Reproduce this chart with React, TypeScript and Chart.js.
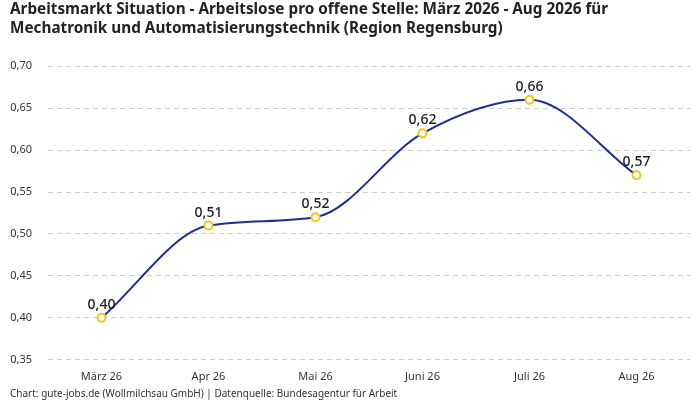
import React, { useEffect, useRef } from "react";
import { Chart, registerables } from "chart.js";

Chart.register(...registerables);

const categories = ["März 26", "Apr 26", "Mai 26", "Juni 26", "Juli 26", "Aug 26"];
const values = [0.4, 0.51, 0.52, 0.62, 0.66, 0.57];
const titleLines = [
  "Arbeitsmarkt Situation - Arbeitslose pro offene Stelle: März 2026 - Aug 2026 für",
  "Mechatronik und Automatisierungstechnik (Region Regensburg)",
];
const footerText = "Chart: gute-jobs.de (Wollmilchsau GmbH) | Datenquelle: Bundesagentur für Arbeit";

const FONT = "'Noto Sans', 'DejaVu Sans', sans-serif";
const fmt = (v: number) => v.toFixed(2).replace(".", ",");

const labelPlugin = {
  id: "valueLabels",
  afterDatasetsDraw(chart: any) {
    const ctx = chart.ctx;
    const meta = chart.getDatasetMeta(0);
    ctx.save();
    ctx.font = `500 14px ${FONT}`;
    ctx.fillStyle = "#1a1a1a";
    ctx.textAlign = "center";
    ctx.textBaseline = "bottom";
    meta.data.forEach((pt: any, i: number) => {
      ctx.fillText(fmt(values[i]), pt.x, pt.y - 6);
    });
    ctx.restore();
  },
};

export default function App() {
  const ref = useRef<HTMLCanvasElement | null>(null);
  useEffect(() => {
    if (!ref.current) return;
    const chart = new Chart(ref.current, {
      type: "line",
      data: {
        labels: categories,
        datasets: [
          {
            data: values,
            borderColor: "#1f2f8f",
            borderWidth: 2,
            cubicInterpolationMode: "monotone",
            pointRadius: 4,
            pointBorderWidth: 2,
            pointBackgroundColor: "#ffffff",
            pointBorderColor: "#f5c518",
            fill: false,
          },
        ],
      },
      options: {
        animation: false,
        responsive: false,
        maintainAspectRatio: false,
        layout: { padding: { left: 10, right: 10, top: 0, bottom: 0 } },
        plugins: {
          legend: { display: false },
          tooltip: { enabled: false },
          title: {
            display: true,
            text: titleLines,
            align: "start",
            color: "#222222",
            font: { family: FONT, size: 15.3, weight: "bold", lineHeight: 1.25 },
            padding: { top: 0, bottom: 28 },
          },
          subtitle: {
            display: true,
            text: footerText,
            position: "bottom",
            align: "start",
            color: "#333333",
            font: { family: FONT, size: 10 },
            padding: { top: 3, bottom: 0 },
          },
        },
        scales: {
          x: {
            offset: true,
            grid: { display: false },
            border: { display: false },
            ticks: { color: "#333333", font: { family: FONT, size: 11 }, padding: 2 },
          },
          y: {
            min: 0.35,
            max: 0.7,
            border: { display: false, dash: [5, 4] },
            grid: { color: "#cccccc", lineWidth: 1, drawTicks: false },
            afterFit: (s: any) => {
              s.width = 38;
            },
            ticks: {
              stepSize: 0.05,
              color: "#333333",
              font: { family: FONT, size: 11 },
              padding: 16,
              callback: (v: any) => fmt(Number(v)),
            },
          },
        },
      },
      plugins: [labelPlugin],
    });
    return () => chart.destroy();
  }, []);
  return (
    <div style={{ position: "absolute", left: 0, top: 0, width: 700, height: 400, background: "#fff" }}>
      <canvas ref={ref} width={700} height={400} style={{ position: "absolute", left: 0, top: 0 }} />
    </div>
  );
}
